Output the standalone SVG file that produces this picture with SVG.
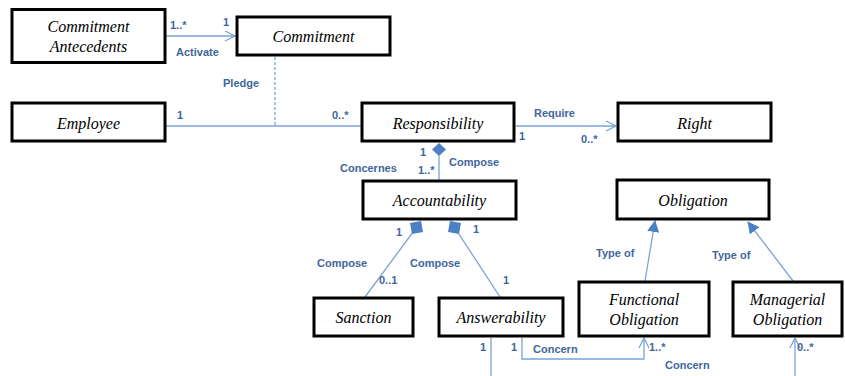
<svg xmlns="http://www.w3.org/2000/svg" width="845" height="376" viewBox="0 0 845 376">
<defs>
<style>
.box{fill:#fff;stroke:#000;stroke-width:3}
.bt{font-family:"Liberation Serif",serif;font-style:italic;font-size:16px;fill:#000;text-anchor:middle}
.ln{fill:none;stroke:#7aa3d6;stroke-width:1.3}
.dash{stroke-dasharray:3,2}
.lb{font-family:"Liberation Sans",sans-serif;font-weight:bold;font-size:11px;fill:#41669d}
.fill{fill:#4b80c4;stroke:none}
</style>
<marker id="open" viewBox="0 0 12 12" refX="11" refY="6" markerWidth="12" markerHeight="12" markerUnits="userSpaceOnUse" orient="auto">
<path d="M1,1 L11,6 L1,11" fill="none" stroke="#7aa3d6" stroke-width="1.3"/>
</marker>
<marker id="tri" viewBox="0 0 12 12" refX="11" refY="6" markerWidth="12" markerHeight="12" markerUnits="userSpaceOnUse" orient="auto">
<path d="M0,0 L12,6 L0,12 Z" fill="#4b80c4"/>
</marker>
</defs>
<rect width="845" height="376" fill="#fff"/>
<g id="connectors">
<line class="ln" x1="166" y1="36" x2="235" y2="36" marker-end="url(#open)"/>
<line class="ln dash" x1="275" y1="57" x2="275" y2="126"/>
<line class="ln" x1="166" y1="126" x2="361" y2="126"/>
<line class="ln" x1="516" y1="126" x2="616" y2="126" marker-end="url(#open)"/>
<line class="ln" x1="439" y1="156" x2="439" y2="180"/>
<path class="fill" d="M439,143 L446,149.5 L439,156 L432,149.5 Z"/>
<line class="ln" x1="416" y1="228" x2="365" y2="297"/>
<path class="fill" d="M410,223 L421,221 L423,232 L412,234 Z"/>
<line class="ln" x1="455" y1="228" x2="500" y2="297"/>
<path class="fill" d="M450,221 L461,223 L459,234 L448,232 Z"/>
<line class="ln" x1="645" y1="281" x2="655" y2="221" marker-end="url(#tri)"/>
<line class="ln" x1="793" y1="281" x2="748" y2="222" marker-end="url(#tri)"/>
<line class="ln" x1="491" y1="338" x2="491" y2="376"/>
<polyline class="ln" points="522,338 522,359 644,359 644,338" marker-end="url(#open)"/>
<line class="ln" x1="795" y1="376" x2="795" y2="338" marker-end="url(#open)"/>
</g>
<g id="labels">
<text class="lb" x="170" y="29">1..*</text>
<text class="lb" x="223" y="26">1</text>
<text class="lb" x="176" y="56">Activate</text>
<text class="lb" x="223" y="87">Pledge</text>
<text class="lb" x="177" y="119">1</text>
<text class="lb" x="332" y="119">0..*</text>
<text class="lb" x="534" y="117">Require</text>
<text class="lb" x="519" y="140">1</text>
<text class="lb" x="581" y="143">0..*</text>
<text class="lb" x="420" y="156">1</text>
<text class="lb" x="418" y="174">1..*</text>
<text class="lb" x="449" y="166">Compose</text>
<text class="lb" x="340" y="172">Concernes</text>
<text class="lb" x="396" y="236">1</text>
<text class="lb" x="473" y="233">1</text>
<text class="lb" x="317" y="267">Compose</text>
<text class="lb" x="410" y="267">Compose</text>
<text class="lb" x="379" y="284">0..1</text>
<text class="lb" x="503" y="284">1</text>
<text class="lb" x="596" y="257">Type of</text>
<text class="lb" x="712" y="259">Type of</text>
<text class="lb" x="480" y="351">1</text>
<text class="lb" x="511" y="351">1</text>
<text class="lb" x="533" y="353">Concern</text>
<text class="lb" x="649" y="351">1..*</text>
<text class="lb" x="665" y="369">Concern</text>
<text class="lb" x="797" y="351">0..*</text>
</g>
<g id="n-commitment-antecedents"><rect class="box" x="12" y="9.5" width="153" height="53"/><text class="bt" x="88.5" y="32">Commitment</text><text class="bt" x="88.5" y="52">Antecedents</text></g>
<g id="n-commitment"><rect class="box" x="237" y="17" width="153" height="38"/><text class="bt" x="313.5" y="42">Commitment</text></g>
<g id="n-employee"><rect class="box" x="12" y="103" width="153" height="38"/><text class="bt" x="88.5" y="129">Employee</text></g>
<g id="n-responsibility"><rect class="box" x="362" y="103" width="152" height="38"/><text class="bt" x="438" y="129">Responsibility</text></g>
<g id="n-right"><rect class="box" x="618" y="103" width="153" height="38"/><text class="bt" x="694.5" y="129">Right</text></g>
<g id="n-accountability"><rect class="box" x="363" y="181" width="153" height="38"/><text class="bt" x="439.5" y="206">Accountability</text></g>
<g id="n-obligation"><rect class="box" x="617" y="180" width="152" height="39"/><text class="bt" x="693" y="206">Obligation</text></g>
<g id="n-sanction"><rect class="box" x="314" y="298" width="99" height="38"/><text class="bt" x="363.5" y="323">Sanction</text></g>
<g id="n-answerability"><rect class="box" x="439" y="298" width="124" height="38"/><text class="bt" x="501" y="323">Answerability</text></g>
<g id="n-functional-obligation"><rect class="box" x="579" y="282" width="130" height="54"/><text class="bt" x="644" y="305">Functional</text><text class="bt" x="644" y="325">Obligation</text></g>
<g id="n-managerial-obligation"><rect class="box" x="733" y="282" width="109" height="54"/><text class="bt" x="787.5" y="305">Managerial</text><text class="bt" x="787.5" y="325">Obligation</text></g>
</svg>
